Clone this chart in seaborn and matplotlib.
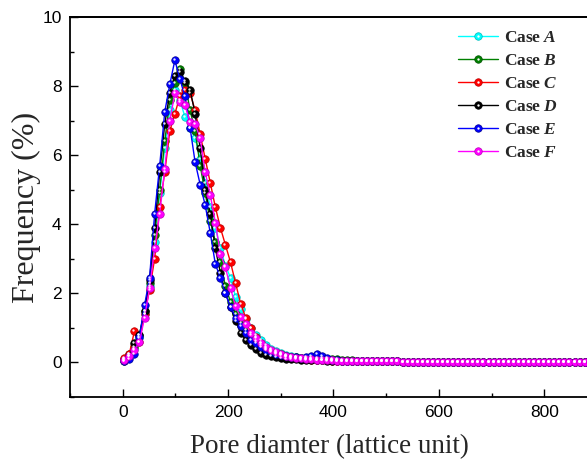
import numpy as np
import pandas as pd
import matplotlib
matplotlib.use("Agg")
import matplotlib.pyplot as plt
import matplotlib.transforms as mtransforms
from matplotlib.lines import Line2D
from matplotlib.legend_handler import HandlerTuple
import seaborn as sns
from matplotlib.ticker import MultipleLocator, FixedLocator

# ---------------- data ----------------
pore_head = [3, 12.6, 22.2, 31.8, 41.4, 51, 60.6, 70.2, 79.8, 89.4,
             99, 108.6, 118.2, 127.8, 137.4, 147, 156.6, 166.2, 175.8, 185.4,
             195, 204.6, 214.2, 223.8, 233.4, 243, 252.6, 262.2, 271.8, 281.4,
             291, 300.6, 310.2, 319.8, 329.4, 339, 348.6, 358.2, 367.8, 377.4,
             387, 396.6, 406.2, 415.8, 425.4, 435, 444.6, 454.2, 463.8, 473.4]
pore_tail = [483, 492.6, 502.2, 511.8, 521.4, 531, 540.6, 550.2, 559.8, 569.4,
             579, 588.6, 598.2, 607.8, 617.4, 627, 636.6, 646.2, 655.8, 665.4,
             675, 684.6, 694.2, 703.8, 713.4, 723, 732.6, 742.2, 751.8, 761.4,
             771, 780.6, 790.2, 799.8, 809.4, 819, 828.6, 838.2, 847.8, 857.4,
             867, 876.6, 886.2, 895.8, 905.4, 915]
tail_freq = [0.03, 0.03, 0.03, 0.03, 0.03, 0.02, 0.02, 0.02, 0.02, 0.02,
             0.02, 0.02, 0.02, 0.02, 0.02, 0.02, 0.01, 0.01, 0.01, 0.01,
             0.01, 0.01, 0.01, 0.01, 0.01, 0.01, 0.01, 0.01, 0.01, 0.01,
             0.01, 0.01, 0.01, 0.01, 0.01, 0.01, 0.01, 0.01, 0.01, 0.01,
             0.01, 0.01, 0.01, 0.01, 0.01, 0.01]

case_a = [0.10, 0.20, 0.40, 0.70, 1.40, 2.20, 3.50, 4.90, 6.20, 7.30,
          7.90, 7.60, 7.10, 6.80, 6.50, 5.90, 5.20, 4.50, 3.90, 3.30,
          2.80, 2.45, 1.90, 1.55, 1.25, 1.00, 0.80, 0.65, 0.50, 0.40,
          0.33, 0.27, 0.22, 0.18, 0.15, 0.13, 0.11, 0.10, 0.09, 0.08,
          0.07, 0.06, 0.06, 0.05, 0.05, 0.05, 0.04, 0.04, 0.04, 0.03]
case_b = [0.10, 0.25, 0.45, 0.80, 1.50, 2.30, 3.70, 5.00, 6.40, 7.60,
          8.10, 8.50, 8.10, 7.30, 6.70, 5.70, 4.90, 4.10, 3.50, 2.90,
          2.20, 1.75, 1.40, 1.15, 0.95, 0.80, 0.62, 0.50, 0.40, 0.33,
          0.28, 0.24, 0.20, 0.17, 0.15, 0.14, 0.14, 0.13, 0.13, 0.12,
          0.11, 0.10, 0.09, 0.08, 0.07, 0.06, 0.05, 0.05, 0.04, 0.04]
case_c = [0.12, 0.25, 0.90, 0.60, 1.40, 2.10, 3.00, 4.50, 5.50, 6.70,
          7.20, 7.70, 7.90, 7.80, 7.30, 6.60, 5.90, 5.20, 4.50, 3.90,
          3.40, 2.90, 2.30, 1.70, 1.30, 1.00, 0.75, 0.55, 0.42, 0.33,
          0.26, 0.21, 0.17, 0.14, 0.12, 0.10, 0.09, 0.08, 0.07, 0.06,
          0.06, 0.05, 0.05, 0.04, 0.04, 0.04, 0.03, 0.03, 0.03, 0.03]
case_d = [0.05, 0.20, 0.55, 0.80, 1.50, 2.40, 3.90, 5.50, 6.90, 7.80,
          8.30, 8.40, 8.15, 7.90, 7.20, 6.20, 5.00, 4.30, 3.30, 2.60,
          2.00, 1.60, 1.20, 0.85, 0.65, 0.50, 0.38, 0.28, 0.22, 0.18,
          0.15, 0.13, 0.11, 0.10, 0.09, 0.08, 0.07, 0.07, 0.06, 0.06,
          0.05, 0.05, 0.04, 0.04, 0.04, 0.03, 0.03, 0.03, 0.03, 0.03]
case_e = [0.05, 0.10, 0.25, 0.75, 1.65, 2.45, 4.30, 5.70, 7.25, 8.05,
          8.75, 8.20, 7.70, 6.80, 5.80, 5.15, 4.55, 3.75, 2.85, 2.45,
          2.00, 1.60, 1.30, 1.05, 0.85, 0.65, 0.55, 0.45, 0.35, 0.30,
          0.25, 0.22, 0.20, 0.17, 0.15, 0.14, 0.16, 0.20, 0.24, 0.20,
          0.12, 0.08, 0.06, 0.05, 0.05, 0.04, 0.04, 0.04, 0.03, 0.03]
case_f = [0.08, 0.20, 0.35, 0.58, 1.30, 2.15, 3.30, 4.30, 5.60, 7.00,
          7.80, 7.55, 7.45, 6.95, 6.90, 6.50, 5.50, 4.85, 4.05, 3.15,
          2.75, 2.15, 1.62, 1.32, 1.12, 0.85, 0.70, 0.55, 0.45, 0.36,
          0.30, 0.25, 0.20, 0.17, 0.14, 0.12, 0.10, 0.09, 0.08, 0.07,
          0.06, 0.06, 0.05, 0.05, 0.05, 0.04, 0.04, 0.04, 0.04, 0.03]

case_letters = ["A", "B", "C", "D", "E", "F"]
case_values = [case_a, case_b, case_c, case_d, case_e, case_f]
case_colors = ["#00FFFF", "#008000", "#FF0000", "#000000", "#0000FF", "#FF00FF"]
case_edges = ["#00B8B8", "#005000", "#B80000", "#000000", "#000090", "#B800B8"]

x_ticks = [0, 200, 400, 600, 800]
pore = pore_head + pore_tail

# ---------------- styling ----------------
sns.set_theme(style="ticks")
plt.rcParams["font.family"] = ["Liberation Sans", "DejaVu Sans"]
plt.rcParams["mathtext.fontset"] = "custom"
plt.rcParams["mathtext.rm"] = "Liberation Serif"
plt.rcParams["mathtext.bf"] = "Liberation Serif:bold"
plt.rcParams["mathtext.it"] = "Liberation Serif:italic"
plt.rcParams["axes.spines.top"] = True
plt.rcParams["axes.spines.right"] = True
try:
    plt.rcParams["mathtext.bfit"] = "Liberation Serif:bold:italic"
    bfit = True
except KeyError:
    bfit = False

fig = plt.figure(figsize=(5.87, 4.59), dpi=100)
ax_w = (588 - 70) / 587
ax = fig.add_axes([70 / 587, 62 / 459, ax_w, 380 / 459])

hl_offset = mtransforms.ScaledTranslation(-1.0 / 100, 1.0 / 100, fig.dpi_scale_trans)

handles, labels = [], []
for letter, vals, col, ecol in zip(case_letters, case_values, case_colors, case_edges):
    freq = vals + tail_freq
    df = pd.DataFrame({"pore": pore, "freq": freq})
    sns.lineplot(data=df, x="pore", y="freq", ax=ax, color=col, lw=1.0,
                 marker="o", markersize=5.4, markeredgecolor=ecol,
                 markeredgewidth=0.5, sort=False, zorder=3, legend=False)
    # glossy highlight on each ball
    ax.plot(pore, freq, ls="none", marker="o", markersize=1.7,
            color="white", alpha=0.9, markeredgewidth=0, zorder=3.1,
            transform=ax.transData + hl_offset)
    if bfit:
        lab = r"$\mathbf{Case}\ \mathbfit{" + letter + "}$"
    else:
        lab = r"$\mathbf{Case}\ \mathit{" + letter + "}$"
    h_line = Line2D([], [], color=col, lw=1.0, marker="o", markersize=5.4,
                    markeredgecolor=ecol, markeredgewidth=0.5)
    h_dot = Line2D([], [], ls="none", marker="o", markersize=1.7,
                   color="white", markeredgewidth=0)
    handles.append((h_line, h_dot))
    labels.append(lab)

ax.set_xlim(-100, 883)
ax.set_ylim(-1, 10)
ax.xaxis.set_major_locator(FixedLocator(x_ticks))
ax.xaxis.set_minor_locator(MultipleLocator(100))
ax.yaxis.set_major_locator(MultipleLocator(2))
ax.yaxis.set_minor_locator(MultipleLocator(1))
ax.tick_params(which="both", direction="in", top=False, right=False,
               labelsize=12.5, colors="black", width=1.0, pad=6)
ax.tick_params(which="major", length=6)
ax.tick_params(which="minor", length=3)
for s in ax.spines.values():
    s.set_visible(True)
    s.set_linewidth(1.3)
    s.set_color("black")
    s.set_zorder(5)
# plot frame top edge (explicit, to be sure it is drawn)
ax.plot([0, 1], [1, 1], transform=ax.transAxes, color="black", lw=1.3,
        clip_on=False, zorder=6, solid_capstyle="projecting")

ax.set_xlabel("Pore diamter (lattice unit)", family="Liberation Serif",
              fontsize=19.5, labelpad=10)
ax.set_ylabel("Frequency (%)", family="Liberation Serif", fontsize=23,
              labelpad=1)

leg = ax.legend(handles, labels, handler_map={tuple: HandlerTuple(ndivide=1, pad=0)},
                loc="upper left", bbox_to_anchor=(381 / 518, 0.985),
                frameon=False, fontsize=12.5, handlelength=2.3,
                handletextpad=0.35, labelspacing=0.45, borderaxespad=0.0)

fig.savefig("out.png", dpi=100)
